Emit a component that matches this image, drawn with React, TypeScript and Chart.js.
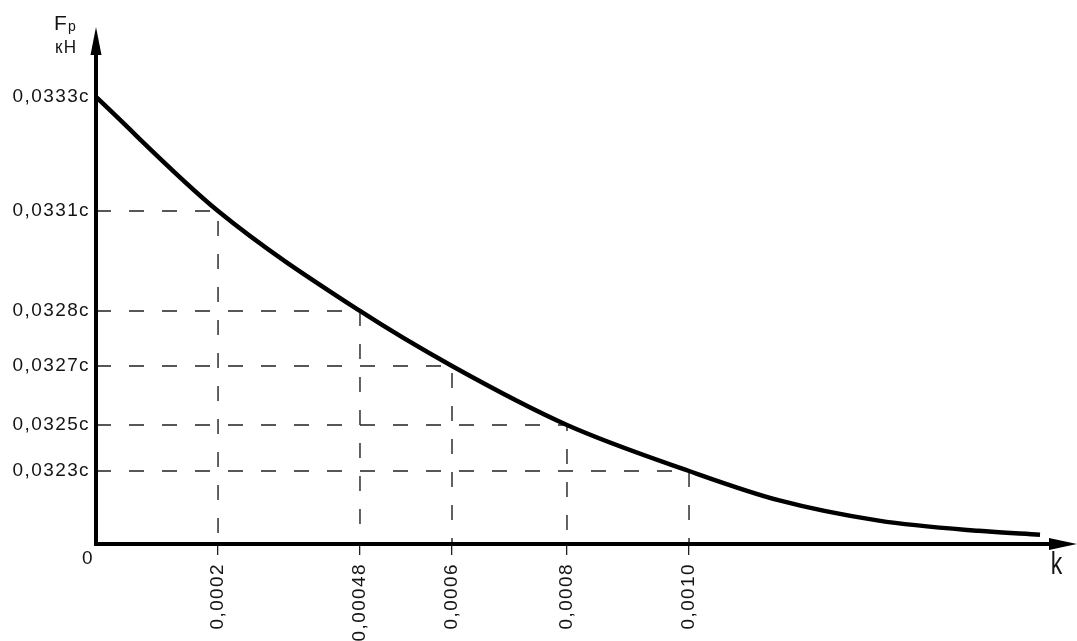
import React, { useEffect, useRef } from 'react';
import { Chart, LinearScale, registerables } from 'chart.js';

// ---- data ----
const kTicks = [0.0002, 0.00048, 0.0006, 0.0008, 0.001];
const kTickLabels = ['0,0002', '0,00048', '0,0006', '0,0008', '0,0010'];
const fTicks = [0.0323, 0.0325, 0.0327, 0.0328, 0.0331, 0.0333];
const fTickLabels = ['0,0323c', '0,0325c', '0,0327c', '0,0328c', '0,0331c', '0,0333c'];

const curveK = [0, 0.0002, 0.00048, 0.0006, 0.0008, 0.001, 0.001149, 0.001313, 0.001477, 0.001579];
const curveF = [0.0333, 0.0331, 0.0328, 0.0327, 0.0325, 0.0323, 0.032179, 0.032096, 0.032054, 0.032038];

const markedK = [0.0002, 0.00048, 0.0006, 0.0008, 0.001];
const markedF = [0.0331, 0.0328, 0.0327, 0.0325, 0.0323];

const kMin = 0;
const kMax = 0.00164;
const fMin = 0.032;
const fMax = 0.03342;

// the drawing is not to scale: value stops -> share of the axis length
const kAxisStops = [0, 0.0002, 0.00048, 0.0006, 0.0008, 0.001, 0.00164];
const kAxisShares = [0, 0.1244, 0.2691, 0.3629, 0.4801, 0.6045, 1];
const fAxisStops = [0.032, 0.0323, 0.0325, 0.0327, 0.0328, 0.0331, 0.0333, 0.03342];
const fAxisShares = [0, 0.1412, 0.2302, 0.3443, 0.4507, 0.6441, 0.8646, 1];

const yAxisTitleMain = 'F';
const yAxisTitleSub = 'р';
const yAxisUnit = 'кН';
const xAxisTitle = 'k';
const originLabel = '0';

function interp(v: number, from: number[], to: number[]): number {
  const n = from.length;
  let i = 0;
  if (v <= from[0]) i = 0;
  else if (v >= from[n - 1]) i = n - 2;
  else {
    while (i < n - 2 && v > from[i + 1]) i++;
  }
  const t = (v - from[i]) / (from[i + 1] - from[i]);
  return to[i] + t * (to[i + 1] - to[i]);
}

const AXIS_MAPS: Record<string, { stops: number[]; shares: number[] }> = {
  x: { stops: kAxisStops, shares: kAxisShares },
  y: { stops: fAxisStops, shares: fAxisShares },
};

class PiecewiseScale extends (LinearScale as any) {
  static id = 'piecewise';
  getPixelForValue(value: number) {
    const m = AXIS_MAPS[(this as any).id];
    return (this as any).getPixelForDecimal(interp(value, m.stops, m.shares));
  }
  getValueForPixel(pixel: number) {
    const m = AXIS_MAPS[(this as any).id];
    return interp((this as any).getDecimalForPixel(pixel), m.shares, m.stops);
  }
}

Chart.register(...registerables, PiecewiseScale as any);

const TEXT = '#141414';
const FONT_FAMILY = '"Liberation Sans", Arial, sans-serif';

const axesPlugin = {
  id: 'axesArrows',
  beforeDraw(chart: any) {
    try {
      chart.ctx.letterSpacing = '1.4px';
    } catch (e) {}
  },
  afterDatasetsDraw(chart: any) {
    const { ctx, chartArea, scales } = chart;
    const ox = scales.x.getPixelForValue(kMin);
    const oy = scales.y.getPixelForValue(fMin);
    const top = chartArea.top;
    const right = chartArea.right;
    ctx.save();
    ctx.strokeStyle = '#000';
    ctx.fillStyle = '#000';
    ctx.lineWidth = 4;
    ctx.lineJoin = 'miter';
    ctx.lineCap = 'butt';
    ctx.beginPath();
    ctx.moveTo(ox, top + 14);
    ctx.lineTo(ox, oy);
    ctx.lineTo(right - 14, oy);
    ctx.stroke();
    // top arrow
    ctx.beginPath();
    ctx.moveTo(ox, top);
    ctx.lineTo(ox + 5.5, top + 28);
    ctx.lineTo(ox - 5.5, top + 28);
    ctx.closePath();
    ctx.fill();
    // right arrow
    ctx.beginPath();
    ctx.moveTo(right, oy);
    ctx.lineTo(right - 28, oy - 6);
    ctx.lineTo(right - 28, oy + 6);
    ctx.closePath();
    ctx.fill();

    ctx.fillStyle = TEXT;
    // origin label
    ctx.font = `19px ${FONT_FAMILY}`;
    ctx.textAlign = 'center';
    ctx.textBaseline = 'middle';
    ctx.fillText(originLabel, ox - 8, oy + 15);

    // x axis title
    ctx.save();
    ctx.translate(right - 20, oy + 30);
    ctx.scale(0.72, 1);
    ctx.font = `32px ${FONT_FAMILY}`;
    ctx.textAlign = 'center';
    ctx.textBaseline = 'alphabetic';
    ctx.fillText(xAxisTitle, 0, 0);
    ctx.restore();

    // y axis title
    ctx.textAlign = 'left';
    ctx.textBaseline = 'alphabetic';
    ctx.font = `21px ${FONT_FAMILY}`;
    ctx.fillText(yAxisTitleMain, ox - 42, top + 3);
    ctx.font = `14px ${FONT_FAMILY}`;
    ctx.fillText(yAxisTitleSub, ox - 28, top + 4);
    ctx.save();
    ctx.translate(ox - 41, top + 26);
    ctx.scale(0.9, 1);
    ctx.font = `19px ${FONT_FAMILY}`;
    ctx.fillText(yAxisUnit, 0, 0);
    ctx.restore();
    ctx.restore();
  },
};

export default function App() {
  const ref = useRef<HTMLCanvasElement | null>(null);
  useEffect(() => {
    if (!ref.current) return;
    const tickFont = { family: FONT_FAMILY, size: 19 };
    const datasets: any[] = [
      {
        data: curveK.map((k, i) => ({ x: k, y: curveF[i] })),
        borderColor: '#000',
        borderWidth: 4.5,
        pointRadius: 0,
        cubicInterpolationMode: 'monotone',
        fill: false,
      },
      ...markedK.map((k, i) => ({
        data: [
          { x: kMin, y: markedF[i] },
          { x: k, y: markedF[i] },
          { x: k, y: fMin },
        ],
        borderColor: '#202020',
        borderWidth: 1.4,
        borderDash: [15, 18],
        pointRadius: 0,
        tension: 0,
        fill: false,
      })),
    ];
    const chart = new Chart(ref.current, {
      type: 'line',
      data: { datasets },
      options: {
        animation: false,
        responsive: true,
        maintainAspectRatio: false,
        events: [],
        layout: { padding: { top: 27, left: 0, right: 0, bottom: 0 } },
        plugins: { legend: { display: false }, tooltip: { enabled: false } },
        scales: {
          x: {
            type: 'piecewise' as any,
            min: kMin,
            max: kMax,
            bounds: 'data',
            afterBuildTicks: (s: any) => {
              s.ticks = kTicks.map((v) => ({ value: v }));
            },
            afterFit: (s: any) => {
              s.height = 97;
            },
            ticks: {
              autoSkip: false,
              minRotation: 90,
              maxRotation: 90,
              padding: 8,
              font: tickFont,
              color: TEXT,
              callback: (_v: any, i: number) => kTickLabels[i],
            },
            grid: {
              display: true,
              drawOnChartArea: false,
              drawTicks: true,
              tickLength: 11,
              color: '#202020',
              lineWidth: 1.3,
            },
            border: { display: false },
          } as any,
          y: {
            type: 'piecewise' as any,
            min: fMin,
            max: fMax,
            bounds: 'data',
            afterBuildTicks: (s: any) => {
              s.ticks = fTicks.map((v) => ({ value: v }));
            },
            afterFit: (s: any) => {
              s.width = 96;
            },
            ticks: {
              autoSkip: false,
              padding: 6,
              font: tickFont,
              color: TEXT,
              callback: (_v: any, i: number) => fTickLabels[i],
            },
            grid: { display: false, drawTicks: false },
            border: { display: false },
          } as any,
        },
      },
      plugins: [axesPlugin],
    } as any);
    return () => chart.destroy();
  }, []);
  return (
    <div style={{ position: 'fixed', left: 0, top: 0, width: 1077, height: 641, background: '#fff' }}>
      <canvas ref={ref} />
    </div>
  );
}
